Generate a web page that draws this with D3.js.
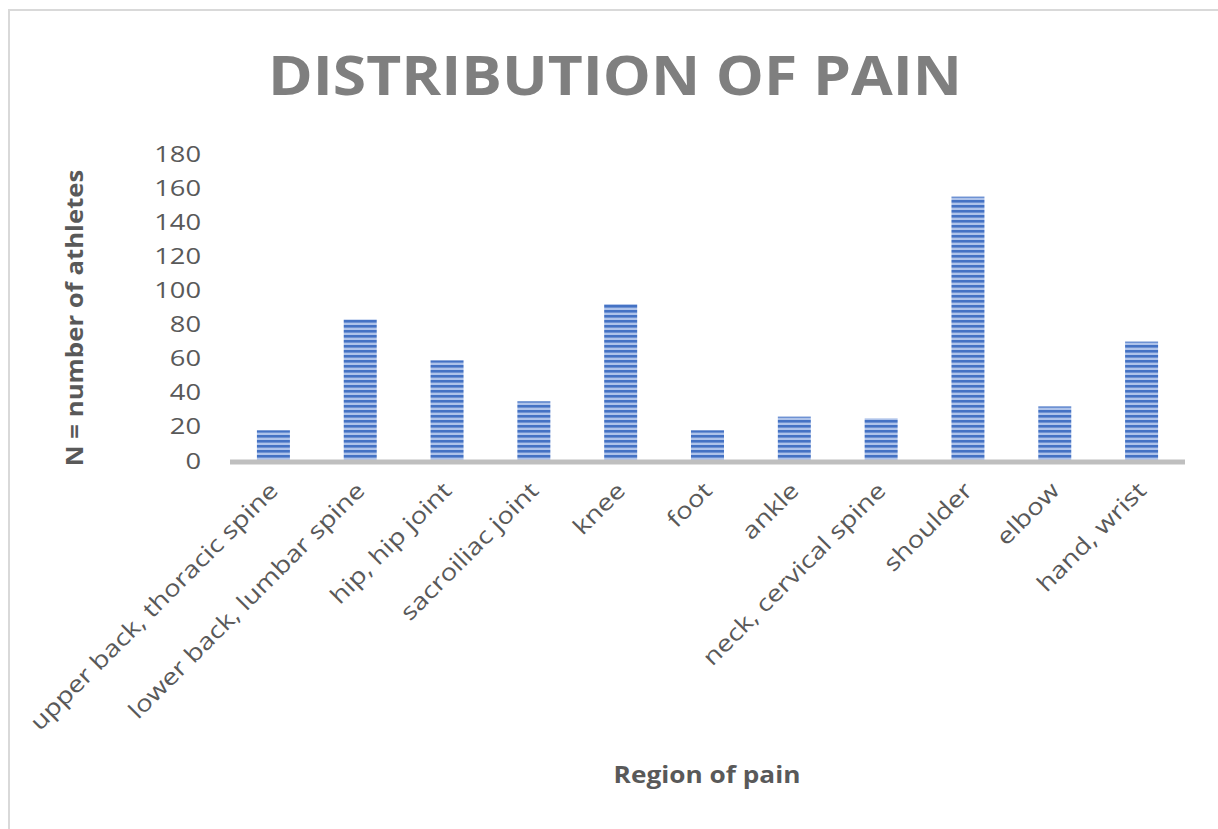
<!DOCTYPE html>
<html>
<head>
<meta charset="utf-8">
<script src="https://cdn.jsdelivr.net/npm/d3@7"></script>
<style>
  html, body { margin: 0; padding: 0; background: #fff; }
  svg { display: block; }
  text { font-family: "Open Sans", "Noto Sans", sans-serif; }
</style>
</head>
<body>
<svg id="chart" width="1218" height="829"></svg>
<script>
const categories = ["upper back, thoracic spine", "lower back, lumbar spine", "hip, hip joint", "sacroiliac joint", "knee", "foot", "ankle", "neck, cervical spine", "shoulder", "elbow", "hand, wrist"];
const values = [18, 83, 59, 35, 92, 18, 26, 25, 155, 32, 70];
const yTicks = [0, 20, 40, 60, 80, 100, 120, 140, 160, 180];
const titleText = "DISTRIBUTION OF PAIN";
const yTitle = "N = number of athletes";
const xTitle = "Region of pain";

const svg = d3.select("#chart");

// widen text horizontally (reference font is wider than available fonts)
function widen(sel, f) {
  sel.each(function() {
    const w = this.getComputedTextLength();
    d3.select(this).attr("textLength", w * f).attr("lengthAdjust", "spacingAndGlyphs");
  });
}

// border
svg.append("rect").attr("x", 9).attr("y", 10).attr("width", 1230).attr("height", 840)
  .attr("fill", "none").attr("stroke", "#d9d9d9").attr("stroke-width", 2);

// stripe pattern
const defs = svg.append("defs");
const pat = defs.append("pattern").attr("id", "stripes").attr("patternUnits", "userSpaceOnUse")
  .attr("width", 10).attr("height", 5);
pat.append("rect").attr("width", 10).attr("height", 5).attr("fill", "#aec3ea");
pat.append("rect").attr("width", 10).attr("height", 2.6).attr("fill", "#4472c4");

const x = d3.scaleBand().domain(categories).range([230, 1185]).paddingInner(0.62).paddingOuter(0.31);
const y = d3.scaleLinear().domain([0, 180]).range([461, 154]);

// title
svg.append("text").attr("x", 615).attr("y", 95).attr("text-anchor", "middle")
  .attr("font-size", 54).attr("font-weight", "bold").attr("fill", "#7f7f7f")
  .attr("textLength", 694).attr("lengthAdjust", "spacingAndGlyphs")
  .text(titleText);

// y axis labels
const yAxis = d3.axisLeft(y).tickValues(yTicks).tickSize(0).tickPadding(0);
const gy = svg.append("g").attr("transform", "translate(201,0)").call(yAxis);
gy.select(".domain").remove();
gy.selectAll("text").attr("font-size", 22).attr("fill", "#595959")
  .attr("font-family", "'Open Sans', sans-serif");
widen(gy.selectAll("text"), 1.24);

// bars
svg.append("g").selectAll("rect").data(values).join("rect")
  .attr("x", (d, i) => x(categories[i]))
  .attr("y", d => y(d))
  .attr("width", x.bandwidth())
  .attr("height", d => y(0) - y(d))
  .attr("fill", "url(#stripes)");

// x axis line
svg.append("line").attr("x1", 230).attr("x2", 1185).attr("y1", 462).attr("y2", 462)
  .attr("stroke", "#bfbfbf").attr("stroke-width", 5);

// x axis labels
const xAxis = d3.axisBottom(x).tickSize(0).tickPadding(0);
const gx = svg.append("g").attr("transform", "translate(0,465)").call(xAxis);
gx.select(".domain").remove();
gx.selectAll(".tick text")
  .attr("font-size", 23).attr("fill", "#595959")
  .attr("font-family", "'Open Sans', sans-serif")
  .attr("text-anchor", "end")
  .attr("dy", null).attr("y", 0)
  .attr("transform", "translate(6,27) rotate(-45)");
widen(gx.selectAll(".tick text"), 1.2);

// y title
const yt = svg.append("text").attr("transform", "translate(83,318) rotate(-90)")
  .attr("text-anchor", "middle").attr("font-size", 23).attr("font-weight", "bold")
  .attr("fill", "#595959").text(yTitle);
widen(yt, 1.12);

// x title
const xt = svg.append("text").attr("x", 707).attr("y", 783).attr("text-anchor", "middle")
  .attr("font-size", 23).attr("font-weight", "bold").attr("fill", "#595959").text(xTitle);
widen(xt, 1.14);
</script>
</body>
</html>
